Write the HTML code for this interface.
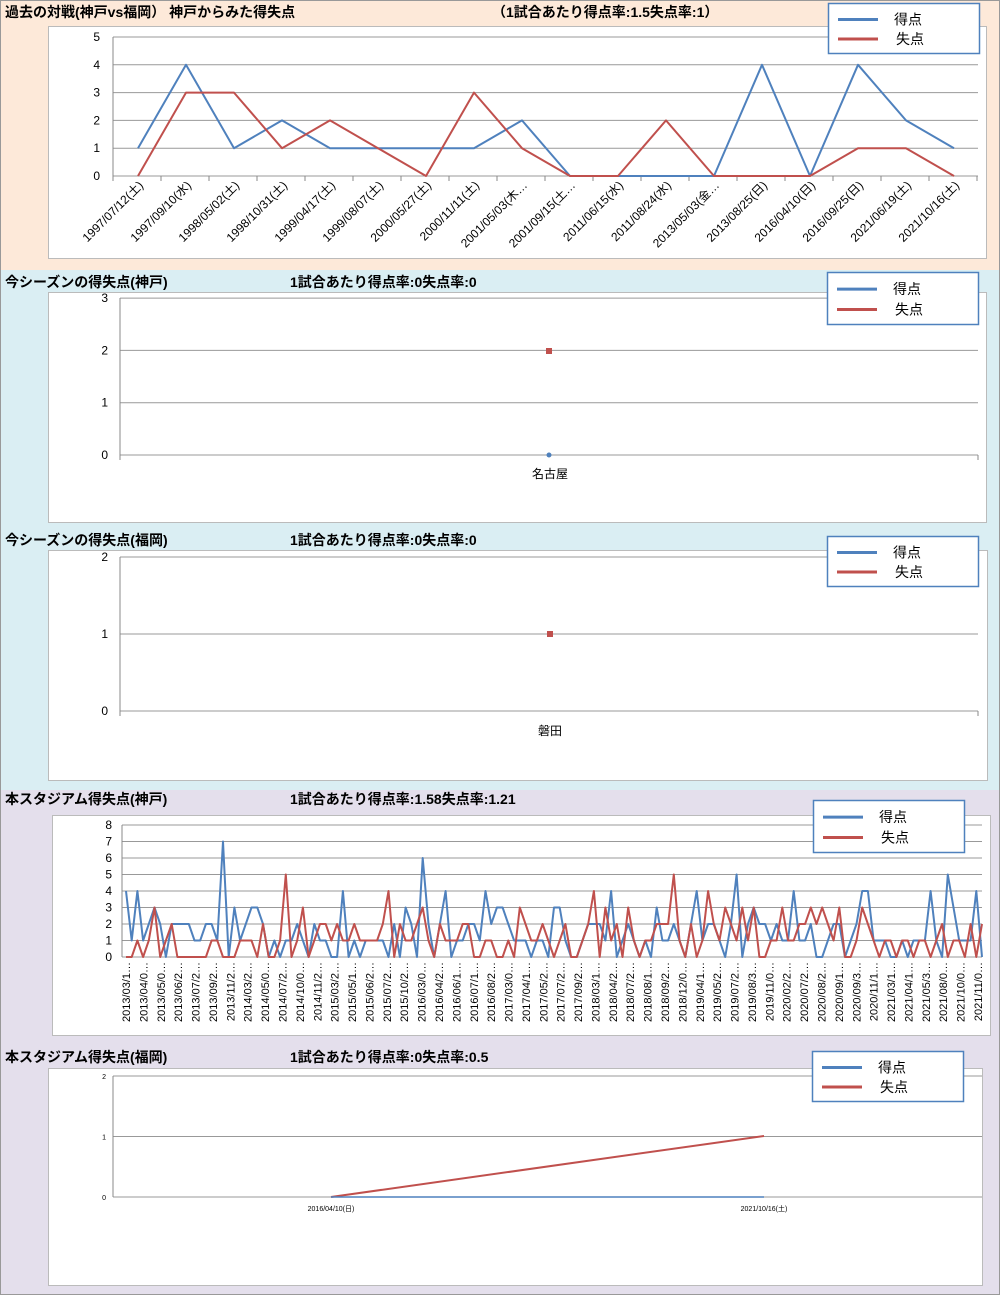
<!DOCTYPE html>
<html><head><meta charset="utf-8">
<style>
body{margin:0;width:1000px;height:1295px;overflow:hidden;font-family:"Liberation Sans","Noto Sans CJK JP",sans-serif;}
svg{display:block}
</style></head><body>
<div id="c"></div>
<script>
var h='';
function L(x1,y1,x2,y2,c,w){h+='<line x1="'+x1+'" y1="'+y1+'" x2="'+x2+'" y2="'+y2+'" stroke="'+c+'" stroke-width="'+(w||1)+'"/>';}
function T(x,y,t,fs,a,extra){h+='<text x="'+x+'" y="'+y+'" font-size="'+fs+'" text-anchor="'+(a||'start')+'" '+(extra||'')+'>'+t+'</text>';}
function P(xs,ys,c){var p=xs.map(function(x,i){return x.toFixed(1)+','+ys[i].toFixed(1)}).join(' ');h+='<polyline points="'+p+'" fill="none" stroke="'+c+'" stroke-width="2" stroke-linejoin="round"/>';}
function legend(x,y,w,hh){h+='<rect x="'+(x+.5)+'" y="'+(y+.5)+'" width="'+w+'" height="'+hh+'" fill="#fff" stroke="#4f81bd" stroke-width="1.5"/>';
 L(x+10,y+hh*0.33,x+50,y+hh*0.33,'#4f81bd',3);L(x+10,y+hh*0.72,x+50,y+hh*0.72,'#c0504d',3);
 T(x+66,y+hh*0.33+5,'得点',14);T(x+68,y+hh*0.72+5,'失点',14);}
var B='#4f81bd',R='#c0504d';
h+='<rect x="0" y="0" width="1000" height="270" fill="#fde9d9"/><rect x="0" y="270" width="1000" height="520" fill="#daeef3"/><rect x="0" y="790" width="1000" height="505" fill="#e4dfec"/><rect x="0.5" y="0.5" width="999" height="1294" fill="none" stroke="#999"/>';
h+='<rect x="48.5" y="26.5" width="938" height="232" fill="#fff" stroke="#bbb"/><rect x="48.5" y="292.5" width="938" height="230" fill="#fff" stroke="#bbb"/><rect x="48.5" y="550.5" width="939" height="230" fill="#fff" stroke="#bbb"/><rect x="52.5" y="815.5" width="938" height="220" fill="#fff" stroke="#bbb"/><rect x="48.5" y="1068.5" width="934" height="217" fill="#fff" stroke="#bbb"/>';
h+='<g font-weight="bold" font-size="14" fill="#000">';
T(5,17,'過去の対戦(神戸vs福岡） 神戸からみた得失点',14);T(492,17,'（1試合あたり得点率:1.5失点率:1）',14);
T(5,287,'今シーズンの得失点(神戸)',14);T(290,287,'1試合あたり得点率:0失点率:0',14);
T(5,545,'今シーズンの得失点(福岡)',14);T(290,545,'1試合あたり得点率:0失点率:0',14);
T(5,804,'本スタジアム得失点(神戸)',14);T(290,804,'1試合あたり得点率:1.58失点率:1.21',14);
T(5,1062,'本スタジアム得失点(福岡)',14);T(290,1062,'1試合あたり得点率:0失点率:0.5',14);
h+='</g>';
// chart 1
var y0=176,st=27.8,i,y;
for(i=0;i<=5;i++){y=y0-i*st;L(113,y,978,y,'#999');T(100,y+4,i,12,'end');}
L(113,y0-5*st,113,y0,'#888');
var dates=['1997/07/12(土)','1997/09/10(水)','1998/05/02(土)','1998/10/31(土)','1999/04/17(土)','1999/08/07(土)','2000/05/27(土)','2000/11/11(土)','2001/05/03(木…','2001/09/15(土…','2011/06/15(水)','2011/08/24(水)','2013/05/03(金…','2013/08/25(日)','2016/04/10(日)','2016/09/25(日)','2021/06/19(土)','2021/10/16(土)'];
var bl=[1,4,1,2,1,1,1,1,2,0,0,0,0,4,0,4,2,1],rd=[0,3,3,1,2,1,0,3,1,0,0,2,0,0,0,1,1,0];
var xs=dates.map(function(d,i){return 138+i*48;});
for(i=0;i<=18;i++)L(113+i*48,y0,113+i*48,y0+5,'#888');
dates.forEach(function(d,i){T(xs[i]+6,186,d,12,'end','transform="rotate(-45 '+(xs[i]+6)+' 186)"');});
P(xs,bl.map(function(v){return y0-v*st}),B);P(xs,rd.map(function(v){return y0-v*st}),R);
legend(828,3,151,50);
// chart 2
for(i=0;i<=3;i++){y=455-i*52.3;L(120,y,978,y,'#999');T(108,y+4,i,12,'end');}
L(120,298,120,460,'#888');L(978,455,978,460,'#888');
h+='<rect x="546" y="348" width="6" height="6" fill="'+R+'"/><circle cx="549" cy="455" r="2.5" fill="'+B+'"/>';
T(550,478,'名古屋',12,'middle');legend(827,272,151,52);
// chart 3
for(i=0;i<=2;i++){y=711-i*77;L(120,y,978,y,'#999');T(108,y+4,i,12,'end');}
L(120,557,120,716,'#888');L(978,711,978,716,'#888');
h+='<rect x="547" y="631" width="6" height="6" fill="'+R+'"/>';
T(550,735,'磐田',12,'middle');legend(827,536,151,50);
// chart 4
var by=957,bs=16.5;
for(i=0;i<=8;i++){y=by-i*bs;L(122,y,982,y,'#999');T(112,y+4,i,12,'end');}
L(122,825,122,957,'#888');
var b4=[4,1,4,1,2,3,2,0,2,2,2,2,1,1,2,2,1,7,0,3,1,2,3,3,2,0,1,0,1,1,2,1,0,2,1,1,0,0,4,0,1,0,1,1,1,1,0,2,0,3,2,0,6,2,0,2,4,0,1,1,2,2,1,4,2,3,3,2,1,1,1,0,1,1,0,3,3,1,0,0,1,2,2,2,1,4,0,1,2,1,0,1,0,3,1,1,2,1,0,2,4,1,2,2,1,0,2,5,0,2,3,2,2,1,2,1,1,4,1,1,2,0,0,1,2,2,0,1,2,4,4,1,1,1,0,0,1,0,1,1,1,4,1,0,5,3,1,1,1,0,5,0,4,1,0];
var r4=[0,0,1,0,1,3,0,1,2,0,0,0,0,0,0,1,1,0,0,0,1,1,1,0,2,0,0,1,5,0,1,3,0,1,2,2,1,2,1,1,2,1,1,1,1,2,4,0,2,1,1,2,3,1,0,2,1,1,1,2,2,0,0,1,1,0,0,1,0,3,2,1,1,2,1,0,1,2,0,0,1,2,4,0,3,1,2,0,3,1,0,1,1,2,2,2,5,1,0,2,0,1,4,2,1,3,2,1,3,1,3,0,0,1,1,3,1,1,2,2,3,2,3,2,1,3,0,0,1,3,2,1,0,1,1,0,1,1,0,1,1,0,1,2,0,1,1,0,2,0,2];
var n=Math.min(b4.length,r4.length);
b4=b4.slice(0,n);r4=r4.slice(0,n);
b4[n-3]=1;b4[n-2]=4;b4[n-1]=0;r4[n-3]=2;r4[n-2]=0;r4[n-1]=2;
var stp=(982-126)/(n-1);
var x4=b4.map(function(v,i){return 126+i*stp;});
P(x4,b4.map(function(v){return by-v*bs}),B);P(x4,r4.map(function(v){return by-v*bs}),R);
var labs=['2013/03/1','2013/04/0','2013/05/0','2013/06/2','2013/07/2','2013/09/2','2013/11/2','2014/03/2','2014/05/0','2014/07/2','2014/10/0','2014/11/2','2015/03/2','2015/05/1','2015/06/2','2015/07/2','2015/10/2','2016/03/0','2016/04/2','2016/06/1','2016/07/1','2016/08/2','2017/03/0','2017/04/1','2017/05/2','2017/07/2','2017/09/2','2018/03/1','2018/04/2','2018/07/2','2018/08/1','2018/09/2','2018/12/0','2019/04/1','2019/05/2','2019/07/2','2019/08/3','2019/11/0','2020/02/2','2020/07/2','2020/08/2','2020/09/1','2020/09/3','2020/11/1','2021/03/1','2021/04/1','2021/05/3','2021/08/0','2021/10/0','2021/11/0'];
var ls=(978-126)/(labs.length-1);
labs.forEach(function(t,i){var x=126+i*ls+4;T(x,962,t+'…',11,'end','transform="rotate(-90 '+x+' 962)"');});
legend(813,800,151,52);
// chart 5
for(i=0;i<=2;i++){y=1197-i*60.5;L(113,y,982,y,'#999');T(106,y+3,i,7,'end');}
L(113,1076,113,1197,'#888');
P([331,764],[1197,1136],R);L(331,1197,764,1197,B,1.5);
T(331,1211,'2016/04/10(日)',7,'middle');T(764,1211,'2021/10/16(土)',7,'middle');
legend(812,1051,151,50);
document.getElementById('c').innerHTML='<svg width="1000" height="1295" xmlns="http://www.w3.org/2000/svg" font-family="Liberation Sans, Noto Sans CJK JP, sans-serif">'+h+'</svg>';
</script>
</body></html>
